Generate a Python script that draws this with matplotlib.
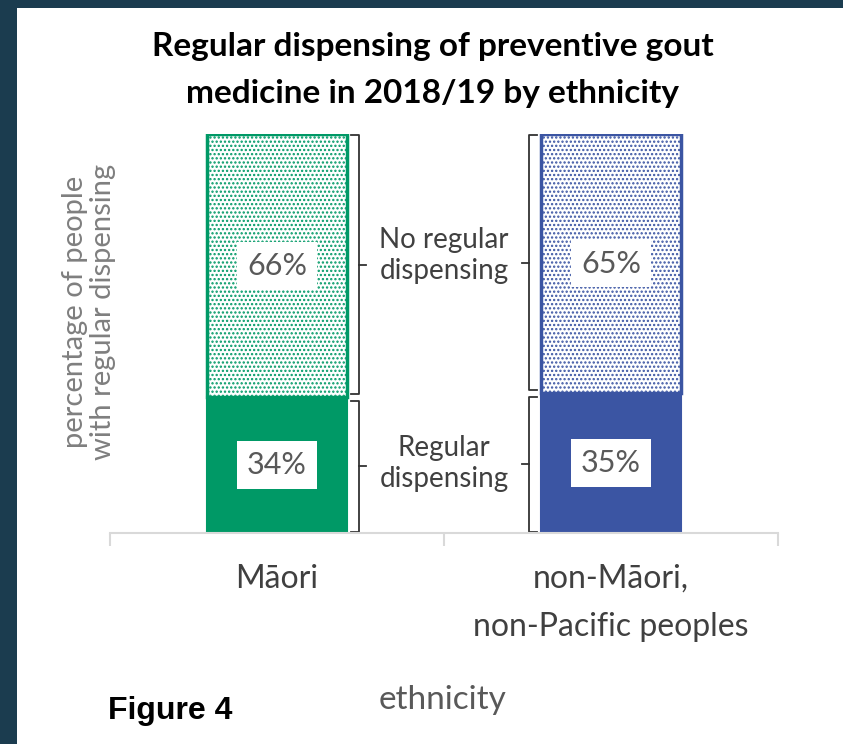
import matplotlib.pyplot as plt
from matplotlib.patches import Rectangle
import matplotlib as mpl

# data
groups = ['Māori', 'non-Māori,\nnon-Pacific peoples']
regular = [34, 35]
no_regular = [66, 65]
colors = ['#009966', '#3B55A3']
segment_names = ['Regular\ndispensing', 'No regular\ndispensing']

mpl.rcParams['hatch.linewidth'] = 1.1

fig = plt.figure(figsize=(8.43, 7.44), dpi=100)
fig.patch.set_facecolor('#1b3c4f')
# white panel inside the dark frame
fig.add_artist(Rectangle((17 / 843, 0), 1, 1 - 8 / 744, transform=fig.transFigure,
                         facecolor='white', edgecolor='none', zorder=0))

ax = fig.add_axes([110 / 843, 1 - 533 / 744, 668 / 843, 399 / 744])
ax.set_facecolor('none')
ax.set_xlim(-0.5, 1.5)
ax.set_ylim(0, 100)

x = range(len(groups))
width = 0.42
for i in x:
    ax.bar(i, regular[i], width, color=colors[i], edgecolor=colors[i], linewidth=1.5)
    ax.bar(i, no_regular[i], width, bottom=regular[i], color='white',
           edgecolor=colors[i], hatch='....', linewidth=2.5)
    # value labels in white boxes
    for val, mid in [(regular[i], regular[i] / 2), (no_regular[i], regular[i] + no_regular[i] / 2)]:
        ax.text(i, mid, f'{val}%', ha='center', va='center', fontsize=22,
                color='#595959', family='Lato',
                bbox=dict(facecolor='white', edgecolor='none', pad=7))


def brace(ax, xv, y0, y1, side):
    # Excel-style bracket; side=+1 points right, -1 points left
    d = 0.022
    ym = (y0 + y1) / 2
    ax.plot([xv - side * d, xv, xv, xv - side * d], [y0 + 0.3, y0 + 0.3, y1 - 0.3, y1 - 0.3],
            color='#333333', lw=1.3, clip_on=False, solid_joinstyle='round')
    ax.plot([xv, xv + side * d], [ym, ym], color='#333333', lw=1.3, clip_on=False)


for i, side, xv in [(0, 1, 0.245), (1, -1, 0.755)]:
    brace(ax, xv, 0, regular[i] - 0.5, side)
    brace(ax, xv, regular[i] + 0.5, 100, side)

ax.text(0.5, 17.5, segment_names[0], ha='center', va='center',
        fontsize=20, color='#404040', family='Lato', linespacing=1.25)
ax.text(0.5, 69.5, segment_names[1], ha='center', va='center',
        fontsize=20, color='#404040', family='Lato', linespacing=1.25)

# axes styling
for s in ['top', 'right', 'left']:
    ax.spines[s].set_visible(False)
ax.spines['bottom'].set_color('#d9d9d9')
ax.spines['bottom'].set_linewidth(1.5)
ax.set_yticks([])
ax.set_xticks([-0.5, 0.5, 1.5], minor=True)
ax.tick_params(axis='x', which='minor', length=9, color='#d9d9d9', width=1.5)
ax.set_xticks(list(x))
ax.set_xticklabels(groups, fontsize=23, color='#404040', family='Lato', linespacing=1.75)
ax.tick_params(axis='x', which='major', length=0, pad=22)

fig.text(89 / 843, 1 - 312 / 744, 'percentage of people\nwith regular dispensing', rotation=90,
         ha='center', va='center', fontsize=21, color='#7f7f7f', family='Lato', linespacing=1.1)

fig.text(433 / 843, 1 - 70 / 744, 'Regular dispensing of preventive gout\nmedicine in 2018/19 by ethnicity',
         ha='center', va='center', fontsize=24, fontweight='bold', family='Lato',
         color='black', linespacing=1.75)
fig.text(443 / 843, 1 - 700 / 744, 'ethnicity', ha='center', va='center',
         fontsize=24, color='#595959', family='Lato')
fig.text(108 / 843, 1 - 711 / 744, 'Figure 4', ha='left', va='center',
         fontsize=23, fontweight='bold', family='Liberation Sans', color='black')

fig.savefig('out.png', dpi=100, facecolor=fig.get_facecolor())
